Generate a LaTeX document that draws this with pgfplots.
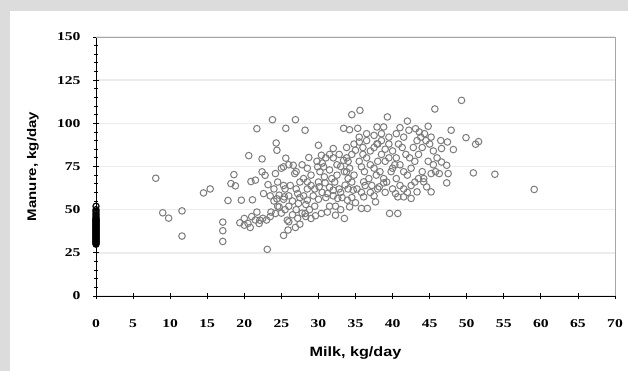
\documentclass[border=0pt]{standalone}
\usepackage{pgfplots}
\pgfplotsset{compat=1.18}
\usepackage{pgfplotstable}
\usepackage{fontspec}
\setmainfont{Liberation Serif}
\newfontfamily\labfont{Liberation Sans}[FakeStretch=1.2]
\newfontfamily\tickfont{Liberation Serif}[FakeStretch=1.3]
\definecolor{bggray}{HTML}{DCDCDC}
\definecolor{markgray}{HTML}{7C7C7C}
\definecolor{gridgray}{HTML}{ECECEC}

\pgfplotstableread{
x y
8.06 68.2
9.0 48.2
9.8 45.1
11.6 49.3
11.6 34.7
14.5 59.7
15.4 62.0
17.8 55.3
17.1 42.8
17.1 37.8
17.1 31.6
18.6 70.3
18.2 65.1
18.8 63.8
19.6 55.5
19.4 42.4
20.0 44.9
20.6 81.3
21.1 55.7
20.9 66.3
20.8 39.7
21.7 96.9
21.5 67.1
21.7 48.6
22.1 43.9
22.4 79.4
22.4 71.9
22.6 59.3
23.1 27.0
22.8 69.9
23.2 64.5
23.8 102.1
24.2 70.9
24.3 88.6
24.4 84.4
24.4 56.3
23.6 48.6
24.2 47.8
24.7 58.4
24.7 51.6
25.4 57.4
25.3 64.0
25.6 97.1
25.6 79.8
25.3 74.8
25.8 43.9
25.3 35.1
25.9 38.2
26.9 102.1
26.6 75.7
26.8 70.9
27.2 59.3
27.3 53.6
27.5 41.6
26.9 39.7
28.2 96.0
28.7 80.2
28.5 66.1
28.5 55.5
28.2 47.8
29.0 44.9
29.6 46.5
30.0 87.3
29.9 74.8
30.4 81.5
30.7 74.8
30.1 63.2
30.9 65.5
31.2 59.3
30.4 47.8
31.2 48.6
32.0 85.4
32.0 61.3
32.6 56.5
32.3 46.8
33.4 97.1
34.2 96.3
35.3 97.1
34.5 105.0
35.6 107.5
33.4 78.6
33.8 71.9
33.6 64.2
33.9 55.5
33.5 44.9
34.2 51.6
34.7 61.3
35.0 84.4
35.5 89.2
35.8 74.8
36.1 66.1
36.1 57.4
35.8 50.7
36.6 50.7
37.7 54.5
37.9 88.2
37.9 97.9
38.8 97.9
39.3 103.7
38.2 63.2
38.8 65.5
39.6 47.8
40.7 47.8
40.4 59.3
41.0 97.5
42.0 101.3
43.1 96.9
43.6 95.0
44.8 98.3
45.7 108.3
49.3 113.3
47.9 96.0
47.4 89.2
46.6 85.4
48.2 84.8
49.9 91.7
51.2 87.9
51.6 89.4
50.9 71.3
53.8 70.5
59.1 61.7
46.6 77.6
47.3 75.7
47.5 70.9
47.3 65.5
46.3 70.9
45.2 70.9
45.2 60.3
44.6 63.2
44.2 66.1
43.3 60.3
42.5 56.5
41.5 57.4
40.7 57.4
31.0 80.0
31.5 82.0
30.5 77.0
31.8 68.0
32.2 66.0
32.5 70.0
33.0 60.0
33.2 57.0
32.8 62.0
31.5 63.0
32.0 58.0
33.0 75.0
34.0 78.0
34.5 82.0
33.8 80.0
34.2 74.0
34.8 70.0
34.0 68.0
34.5 66.0
33.5 72.0
32.5 76.0
31.5 73.0
30.8 69.0
30.0 66.0
29.5 62.0
29.0 64.0
28.5 62.0
28.0 58.0
27.5 57.0
27.0 62.0
26.5 55.0
26.0 52.0
25.5 50.0
25.0 48.0
24.5 52.0
24.0 55.0
23.5 46.0
23.0 44.0
22.5 45.0
22.0 42.0
21.5 44.0
21.0 46.0
20.5 42.0
20.0 41.0
26.0 43.0
26.5 47.0
27.0 50.0
27.8 48.0
28.3 46.0
28.8 50.0
29.5 52.0
30.0 56.0
30.5 60.0
31.0 57.0
31.5 52.0
29.0 70.0
28.0 68.0
27.0 72.0
26.0 76.0
25.0 74.0
24.5 66.0
24.0 62.0
23.5 58.0
25.5 62.0
26.2 64.0
27.5 66.0
35.5 78
36.0 82
36.5 80
37.0 76
37.5 74
38.0 78
38.5 82
39.0 85
39.5 88
40.0 84
40.5 80
41.0 76
41.5 72
42.0 70
42.5 74
43.0 78
43.5 82
44.0 86
44.5 90
45.0 88
45.5 84
36.2 72
36.8 68
37.2 64
37.8 70
38.3 72
38.8 68
39.2 66
39.8 72
40.3 76
40.8 88
41.3 86
41.8 82
42.3 80
42.8 86
43.3 90
43.8 92
44.3 94
41.0 64
41.5 62
42.0 60
42.5 64
43.0 66
43.5 68
44.0 72
36.0 86
36.5 90
37.0 84
37.5 86
38.0 88
38.5 90
39.0 78
39.5 80
40.0 74
40.5 68
35.2 62
35.8 60
36.3 64
37.0 60
37.5 58
38.0 62
39.0 60
40.0 62
45.5 76
46.0 80
44.8 78
44.2 68
45.8 72
46.5 90
45.2 92
42.2 96
41.5 92
40.5 94
39.5 92
38.5 94
37.5 93
36.5 94
35.5 92
34.8 88
33.8 86
32.8 82
32.0 80
34.0 62
33.0 50
32.3 52
34.5 57
35.0 54
29.8 78
30.2 72
28.5 74
27.8 76
29.3 58
28.3 53
27.2 45
26.0 58
25.3 56
}\milkdata

\pgfplotstableread{
x y
0 30
0 30.5
0 31
0 31.5
0 32
0 32.5
0 33
0 33.5
0 34
0 34.5
0 35
0 35.5
0 36
0 36.5
0 37
0 37.5
0 38
0 38.5
0 39
0 39.5
0 40
0 40.5
0 41
0 41.5
0 42
0 42.5
0 43
0 43.5
0 44
0 44.5
0 45
0 46
0 47
0 48
0 49
0 50
0 52
}\zerodata

\begin{document}
\begin{tikzpicture}[x=1pt,y=1pt]
\fill[bggray] (0,0) rectangle (628,371);
\fill[white] (10,0) rectangle (628,360);
\begin{axis}[
  at={(96pt,75pt)}, anchor=south west,
  scale only axis, width=519pt, height=259pt,
  xmin=0, xmax=70, ymin=0, ymax=150,
  xtick={0,5,...,70}, ytick={0,25,...,150},
  minor y tick num=4,
  axis x line*=bottom, axis y line*=left,
  axis line style={black, line width=0.9pt},
  tick align=center,
  major tick length=6pt, minor tick length=4pt,
  tick style={black, line width=0.8pt},
  ymajorgrids, grid style={gridgray, line width=1.6pt},
  /pgf/number format/assume math mode=true,
  ticklabel style={font=\tickfont\bfseries\fontsize{12}{14}\selectfont},
  xticklabel style={yshift=-17pt},
  yticklabel style={xshift=-9pt},
  xlabel={Milk, kg/day},
  ylabel={Manure, kg/day},
  xlabel style={font=\labfont\bfseries\fontsize{13.5}{16}\selectfont, at={(axis description cs:0.5,-0.220)}, anchor=center},
  ylabel style={font=\labfont\bfseries\fontsize{12.5}{15}\selectfont, at={(axis description cs:-0.1214,0.5)}, anchor=center},
  clip=false,
]
\draw[gray!70, line width=0.9pt] (rel axis cs:0,1) -- (rel axis cs:1,1) -- (rel axis cs:1,0);
\addplot[only marks, mark=o, mark size=3.3pt, markgray, mark options={line width=1pt}] table[x=x,y=y] {\milkdata};
\addplot[only marks, mark=o, mark size=3.1pt, black, mark options={line width=1.2pt}] table[x=x,y=y] {\zerodata};
\end{axis}
\pgfresetboundingbox
\useasboundingbox (0,0) rectangle (628,371);
\end{tikzpicture}
\end{document}
